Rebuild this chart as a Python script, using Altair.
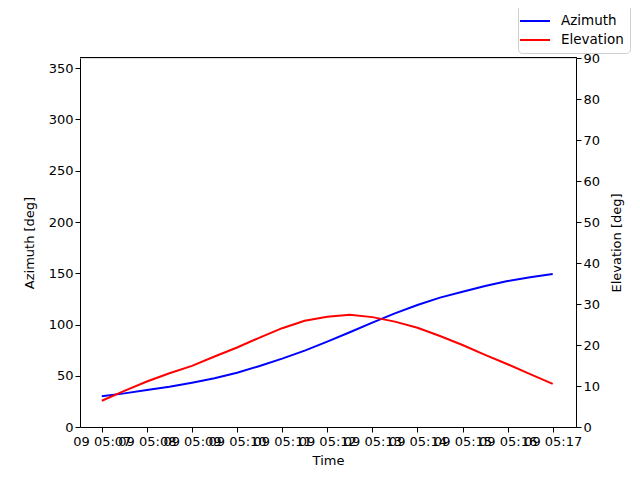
import altair as alt
import pandas as pd

# sample times (UTC), every 30 s
times = ["05:07:00", "05:07:30", "05:08:00", "05:08:30", "05:09:00", "05:09:30",
         "05:10:00", "05:10:30", "05:11:00", "05:11:30", "05:12:00", "05:12:30",
         "05:13:00", "05:13:30", "05:14:00", "05:14:30", "05:15:00", "05:15:30",
         "05:16:00", "05:16:30", "05:17:00"]
azimuth = [29.9, 32.8, 36.1, 39.3, 43.2, 47.5, 53.0, 59.5, 66.7, 74.5, 83.3,
           92.4, 101.8, 110.9, 119.0, 126.2, 132.0, 137.6, 142.4, 146.0, 149.3]
elevation = [6.4, 8.8, 11.1, 13.1, 14.9, 17.2, 19.4, 21.8, 24.1, 25.9, 26.9,
             27.4, 26.8, 25.7, 24.2, 22.2, 20.0, 17.6, 15.3, 12.9, 10.5]
tick_times = ["05:07", "05:08", "05:09", "05:10", "05:11", "05:12",
              "05:13", "05:14", "05:15", "05:16", "05:17"]
day = "2024-01-09"

rows = []
for t, a, e in zip(times, azimuth, elevation):
    rows.append({"time": f"{day}T{t}Z", "value": a, "series": "Azimuth"})
    rows.append({"time": f"{day}T{t}Z", "value": e, "series": "Elevation"})
df = pd.DataFrame(rows)

tick_vals = [int(pd.Timestamp(f"{day}T{t}:00Z").value // 10**6) for t in tick_times]
dom = [int(pd.Timestamp(f"{day}T05:06:31Z").value // 10**6),
       int(pd.Timestamp(f"{day}T05:17:31Z").value // 10**6)]

FONT = "DejaVu Sans"

xenc = alt.X("time:T", title="Time",
             scale=alt.Scale(type="utc", domain=dom),
             axis=alt.Axis(values=tick_vals,
                           labelExpr="utcFormat(datum.value, '%d %H:%M')",
                           labelOverlap=False, labelFlush=False, labelBound=False,
                           grid=False, tickSize=5, domainColor="black", tickColor="black",
                           labelColor="black", labelFontSize=13, titleFontSize=13,
                           titleFontWeight="normal", labelPadding=3, titlePadding=6,
                           labelFont=FONT, titleFont=FONT))

color = alt.Color("series:N",
                  scale=alt.Scale(domain=["Azimuth", "Elevation"], range=["blue", "red"]),
                  legend=alt.Legend(title=None, orient="none", legendX=438, legendY=-54,
                                    symbolType="M-1.5,0L1.5,0", symbolSize=400,
                                    symbolStrokeWidth=2, labelFontSize=13.5, labelFont=FONT,
                                    labelColor="black", fillColor="white",
                                    strokeColor="#d0d0d0", cornerRadius=4, padding=6,
                                    rowPadding=1, labelOffset=15))

az = alt.Chart(df).transform_filter(alt.datum.series == "Azimuth").mark_line(strokeWidth=2).encode(
    x=xenc,
    y=alt.Y("value:Q", title="Azimuth [deg]",
            scale=alt.Scale(domain=[0, 360], nice=False),
            axis=alt.Axis(values=list(range(0, 351, 50)), grid=False, tickSize=5,
                          domainColor="black", tickColor="black", labelColor="black",
                          labelFontSize=13, titleFontSize=13, titleFontWeight="normal",
                          labelFont=FONT, titleFont=FONT, titlePadding=12)),
    color=color,
)

el = alt.Chart(df).transform_filter(alt.datum.series == "Elevation").mark_line(strokeWidth=2).encode(
    x=xenc,
    y=alt.Y("value:Q", title="Elevation [deg]",
            scale=alt.Scale(domain=[0, 90], nice=False),
            axis=alt.Axis(orient="right", values=list(range(0, 91, 10)), grid=False,
                          tickSize=5, domainColor="black", tickColor="black",
                          labelColor="black", labelFontSize=13, titleFontSize=13,
                          titleFontWeight="normal", labelFont=FONT, titleFont=FONT,
                          titleAngle=270, titlePadding=24)),
    color=color,
)

top_rule = alt.Chart(df).mark_rule(color="black", strokeWidth=1).encode(
    x=alt.value(0), x2=alt.value(497), y=alt.value(-0.5))

chart = alt.layer(az, el, top_rule).resolve_scale(y="independent").properties(
    width=496, height=369,
    autosize=alt.AutoSizeParams(type="none"),
    padding={"left": 72, "top": 50, "right": 56, "bottom": 53},
).configure_view(strokeWidth=0).configure(background="white")

chart.save("out.html", embed_options={"renderer": "svg", "actions": False})
